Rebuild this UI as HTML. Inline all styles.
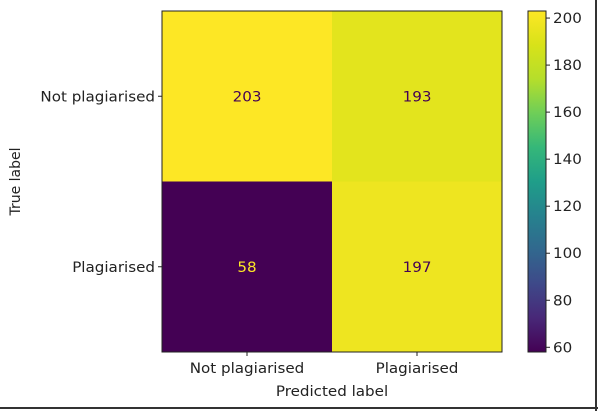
<!DOCTYPE html>
<html><head><meta charset="utf-8"><style>
html,body{margin:0;padding:0;background:#fff;}
svg{display:block;font-family:"DejaVu Sans","Liberation Sans",sans-serif;}
</style></head><body>
<svg id="chart" width="598" height="411" viewBox="0 0 598 411">
<defs>
<linearGradient id="vir" x1="0" y1="1" x2="0" y2="0">
<stop offset="0" stop-color="#440154"/><stop offset="0.1" stop-color="#482878"/><stop offset="0.2" stop-color="#3e4989"/><stop offset="0.3" stop-color="#31688e"/><stop offset="0.4" stop-color="#26828e"/><stop offset="0.5" stop-color="#1f9e89"/><stop offset="0.6" stop-color="#35b779"/><stop offset="0.7" stop-color="#6ece58"/><stop offset="0.8" stop-color="#b5de2b"/><stop offset="0.9" stop-color="#d8e219"/><stop offset="1" stop-color="#fde725"/>
</linearGradient>
</defs>
<line x1="0" y1="408" x2="598" y2="408" stroke="#333" stroke-width="2"/>
<line x1="596" y1="0" x2="596" y2="411" stroke="#333" stroke-width="2"/>
<g id="cells"></g>
<g id="axes"></g>
</svg>
<script>
const classes = ["Not plagiarised", "Plagiarised"];
const matrix = [[203, 193], [58, 197]];
const cbTicks = [60, 80, 100, 120, 140, 160, 180, 200];

const NS = "http://www.w3.org/2000/svg";
const L = 162, T = 11, W = 340, H = 341;
const cbX = 528, cbW = 18;
const SX = 1.08;
const flat = matrix.flat();
const vmin = Math.min(...flat), vmax = Math.max(...flat);
const stops = ["#440154","#482878","#3e4989","#31688e","#26828e","#1f9e89","#35b779","#6ece58","#b5de2b","#d8e219","#fde725"];
function hex(c){return [1,3,5].map(i=>parseInt(c.substr(i,2),16));}
function viridis(t){t=Math.max(0,Math.min(1,t));const p=t*10,i=Math.min(9,Math.floor(p)),f=p-i;const a=hex(stops[i]),b=hex(stops[i+1]);return "rgb("+a.map((v,k)=>Math.round(v+(b[k]-v)*f)).join(",")+")";}
function xCell(j){return L + j*W/classes.length;}
function yCell(i){return T + i*H/classes.length;}
function cbY(v){return T + H - (v - vmin)/(vmax - vmin)*H;}
function mk(tag, attrs, parent, text){const e=document.createElementNS(NS,tag);for(const k in attrs)e.setAttribute(k,attrs[k]);if(text!==undefined)e.textContent=text;parent.appendChild(e);return e;}
function txt(x,y,anchor,fill,parent,s){
  const tr = "translate("+x+" "+y+") scale("+SX+" 1)";
  return mk("text",{x:0,y:0,"text-anchor":anchor,"font-size":"14",fill:fill,transform:tr},parent,s);
}
const cells = document.getElementById("cells"), axes = document.getElementById("axes");
const cw = W/classes.length, ch = H/classes.length;
matrix.forEach((row,i)=>row.forEach((v,j)=>{
  const t=(v-vmin)/(vmax-vmin);
  const r=mk("rect",{x:xCell(j),y:yCell(i),width:cw,height:ch,fill:viridis(t)},cells);
  
  
  const tx=txt(xCell(j)+cw/2,yCell(i)+ch/2+5,"middle",t<0.5?"#fde725":"#440154",cells,String(v));
  
  
}));
const fr=mk("rect",{x:L,y:T,width:W,height:H,fill:"none",stroke:"#222","stroke-width":1},axes);


classes.forEach((c,k)=>{
  const cx=xCell(k)+cw/2, cy=yCell(k)+ch/2;
  mk("line",{x1:cx,y1:T+H,x2:cx,y2:T+H+4,stroke:"#222"},axes);
  const xl=txt(cx,T+H+21,"middle","#222",axes,c);
  
  
  mk("line",{x1:L-4,y1:cy,x2:L,y2:cy,stroke:"#222"},axes);
  const yl=txt(L-7,cy+5,"end","#222",axes,c);
  
  
});
const xt=txt(L+W/2,396,"middle","#222",axes,"Predicted label");


const yt=mk("text",{x:0,y:0,"text-anchor":"middle","font-size":"14",fill:"#222",transform:"translate(20 "+(T+H/2)+") rotate(-90)"},axes,"True label");


const cb=mk("rect",{x:cbX,y:T,width:cbW,height:H,fill:"url(#vir)",stroke:"#222","stroke-width":1},axes);


cbTicks.forEach(v=>{
  const y=cbY(v);
  mk("line",{x1:cbX+cbW,y1:y,x2:cbX+cbW+4,y2:y,stroke:"#222"},axes);
  const l=txt(cbX+cbW+7,y+5,"start","#222",axes,String(v));
  
  
});
</script>
</body></html>
